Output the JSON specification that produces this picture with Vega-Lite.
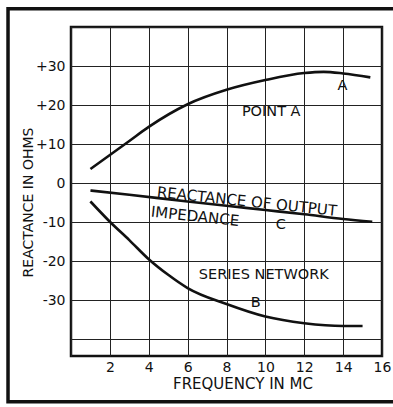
{
  "$schema": "https://vega.github.io/schema/vega-lite/v6.json",
  "width": 311,
  "height": 329,
  "autosize": {"type": "none"},
  "padding": {"left": 71, "top": 27, "right": 11, "bottom": 51},
  "background": "white",
  "config": {
    "font": "DejaVu Sans",
    "view": {"stroke": "#111", "strokeWidth": 2.5},
    "axisX": {
      "values": [0, 2, 4, 6, 8, 10, 12, 14, 16],
      "labelExpr": "datum.value == 0 ? '' : '' + datum.value",
      "labelOverlap": false,
      "grid": true, "gridColor": "#222", "gridWidth": 1, "gridOpacity": 1,
      "ticks": false, "domain": false,
      "labelFont": "DejaVu Sans", "labelFontSize": 14, "labelColor": "#111",
      "labelPadding": 4, "labelFlush": false,
      "titleFont": "DejaVu Sans", "titleFontSize": 15,
      "titleFontWeight": "normal", "titleColor": "#111",
      "titleX": 171.5, "titleY": 27, "titleBaseline": "middle", "titleAlign": "center"
    },
    "axisY": {
      "values": [-40, -30, -20, -10, 0, 10, 20, 30, 40],
      "labelExpr": "abs(datum.value) == 40 ? '' : (datum.value > 0 ? '+' + datum.value : (datum.value < 0 ? '-' + abs(datum.value) : '0'))",
      "labelOverlap": false,
      "grid": true, "gridColor": "#222", "gridWidth": 1, "gridOpacity": 1,
      "ticks": false, "domain": false,
      "labelFont": "DejaVu Sans", "labelFontSize": 14, "labelColor": "#111",
      "labelPadding": 6, "labelFlush": false,
      "titleFont": "DejaVu Sans", "titleFontSize": 14,
      "titleFontWeight": "normal", "titleColor": "#111",
      "titleAngle": 270, "titleX": -43, "titleY": 175,
      "titleBaseline": "middle", "titleAlign": "center"
    }
  },
  "datasets": {
    "curves": [
      {"series": "A", "x": 1, "y": 3.6},
      {"series": "A", "x": 2, "y": 7.2},
      {"series": "A", "x": 3, "y": 10.8},
      {"series": "A", "x": 4, "y": 14.4},
      {"series": "A", "x": 6, "y": 20.2},
      {"series": "A", "x": 8, "y": 23.9},
      {"series": "A", "x": 10, "y": 26.4},
      {"series": "A", "x": 12, "y": 28.2},
      {"series": "A", "x": 13, "y": 28.5},
      {"series": "A", "x": 14, "y": 28.1},
      {"series": "A", "x": 15.4, "y": 27.1},
      {"series": "B", "x": 1, "y": -4.7},
      {"series": "B", "x": 2, "y": -9.9},
      {"series": "B", "x": 3, "y": -14.6},
      {"series": "B", "x": 4, "y": -19.5},
      {"series": "B", "x": 5, "y": -23.5},
      {"series": "B", "x": 6, "y": -26.9},
      {"series": "B", "x": 8, "y": -31.0},
      {"series": "B", "x": 10, "y": -34.2},
      {"series": "B", "x": 12, "y": -35.9},
      {"series": "B", "x": 14, "y": -36.6},
      {"series": "B", "x": 15, "y": -36.6},
      {"series": "C", "x": 1, "y": -1.9},
      {"series": "C", "x": 3, "y": -3.0},
      {"series": "C", "x": 6, "y": -4.7},
      {"series": "C", "x": 8, "y": -5.8},
      {"series": "C", "x": 10, "y": -6.9},
      {"series": "C", "x": 12, "y": -8.0},
      {"series": "C", "x": 14, "y": -9.2},
      {"series": "C", "x": 15.5, "y": -9.9}
    ],
    "labels": [
      {"text": "POINT A", "x": 10.3, "y": 18.2},
      {"text": "A", "x": 13.97, "y": 24.8},
      {"text": "SERIES NETWORK", "x": 9.92, "y": -23.5},
      {"text": "B", "x": 9.5, "y": -30.8},
      {"text": "C", "x": 10.8, "y": -10.7}
    ],
    "slanted": [
      {"text": "REACTANCE OF OUTPUT", "x": 9.05, "y": -4.7},
      {"text": "IMPEDANCE", "x": 6.38, "y": -8.5}
    ]
  },
  "layer": [
    {
      "data": {"name": "curves"},
      "mark": {"type": "line", "interpolate": "monotone", "stroke": "#111", "strokeWidth": 2.6},
      "encoding": {
        "x": {
          "field": "x", "type": "quantitative",
          "scale": {"domain": [0, 16], "nice": false, "zero": false},
          "title": "FREQUENCY IN MC"
        },
        "y": {
          "field": "y", "type": "quantitative",
          "scale": {"domain": [-44.3, 40], "nice": false, "zero": false},
          "title": "REACTANCE IN OHMS"
        },
        "detail": {"field": "series", "type": "nominal"}
      }
    },
    {
      "data": {"name": "labels"},
      "mark": {"type": "text", "font": "DejaVu Sans", "fontSize": 14.5, "fill": "#111", "align": "center", "baseline": "middle"},
      "encoding": {
        "x": {"field": "x", "type": "quantitative", "title": "FREQUENCY IN MC"},
        "y": {"field": "y", "type": "quantitative", "title": "REACTANCE IN OHMS"},
        "text": {"field": "text"}
      }
    },
    {
      "data": {"name": "slanted"},
      "mark": {"type": "text", "font": "DejaVu Sans", "fontSize": 15, "fill": "#111", "align": "center", "baseline": "middle", "angle": 6},
      "encoding": {
        "x": {"field": "x", "type": "quantitative", "title": "FREQUENCY IN MC"},
        "y": {"field": "y", "type": "quantitative", "title": "REACTANCE IN OHMS"},
        "text": {"field": "text"}
      }
    },
    {
      "data": {"values": [{}]},
      "mark": {"type": "rect", "fill": null, "stroke": "#111", "strokeWidth": 3.5, "clip": false},
      "encoding": {
        "x": {"datum": -3.24, "type": "quantitative"},
        "x2": {"datum": 19},
        "y": {"datum": 44.7, "type": "quantitative"},
        "y2": {"datum": -56.0}
      }
    }
  ]
}
